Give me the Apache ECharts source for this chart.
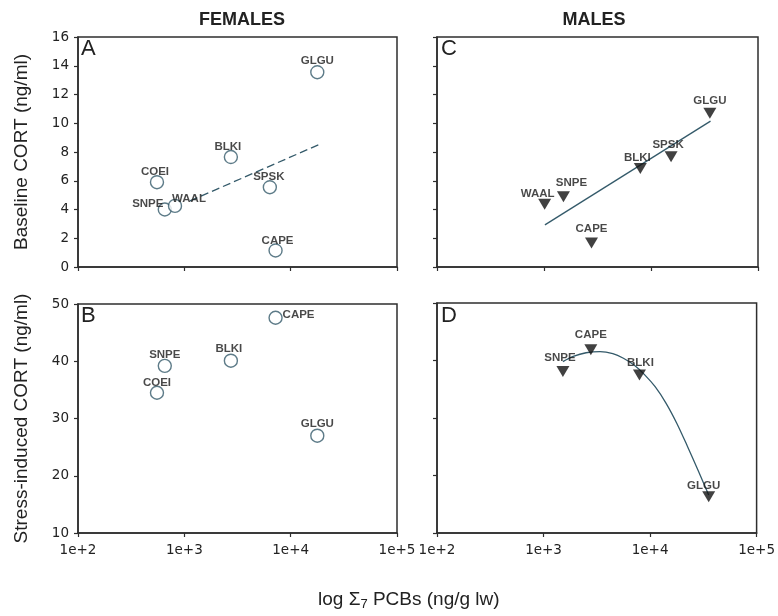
<!DOCTYPE html>
<html>
<head>
<meta charset="utf-8">
<script src="https://cdn.jsdelivr.net/npm/echarts@6/dist/echarts.min.js"></script>
<style>
html,body{margin:0;padding:0;background:#fff;}
#chart{width:778px;height:616px;}
</style>
</head>
<body>
<div id="chart"></div>
<script>
// ---- data ----
const femaleBaseNames = ['GLGU','BLKI','COEI','SNPE','WAAL','SPSK','CAPE'];
const femaleBaseX = [17800, 2740, 553, 655, 817, 6370, 7210];
const femaleBaseY = [13.55, 7.65, 5.9, 4.0, 4.25, 5.55, 1.15];

const femaleStressNames = ['CAPE','SNPE','BLKI','COEI','GLGU'];
const femaleStressX = [7210, 655, 2740, 553, 17800];
const femaleStressY = [47.6, 39.2, 40.1, 34.5, 27.0];

const maleBaseNames = ['GLGU','SPSK','BLKI','SNPE','WAAL','CAPE'];
const maleBaseX = [35500, 15400, 7950, 1520, 1014, 2780];
const maleBaseY = [10.7, 7.67, 6.86, 4.88, 4.37, 1.67];

const maleStressNames = ['CAPE','SNPE','BLKI','GLGU'];
const maleStressX = [2780, 1520, 7950, 35500];
const maleStressY = [41.86, 38.07, 37.5, 16.3];

// fitted lines as drawn in the reference
const femaleBaseFitX = [1130, 18800];
const femaleBaseFitY = [4.6, 8.54];
const maleBaseFitX = [1020, 36000];
const maleBaseFitY = [2.93, 10.15];
const maleStressFitX = [1520, 1900, 2510, 3390, 4470, 5620, 7080, 8910, 11200, 14100, 17800, 22400, 28200, 35500];
const maleStressFitY = [39.8, 40.7, 41.35, 41.55, 41.2, 40.4, 39.2, 37.5, 35.4, 32.6, 29.1, 25.1, 20.9, 16.6];

const xTickLabels = ['1e+2','1e+3','1e+4','1e+5'];
const baseTicks = [0,2,4,6,8,10,12,14,16];
const stressTicks = [10,20,30,40,50];

// ---- label placement (layout, not data) ----
const labelOffsets = {
  A: {GLGU:[0,-11], BLKI:[-3,-10], COEI:[-2,-10], SNPE:[-17,-6], WAAL:[14,-7], SPSK:[-1,-10], CAPE:[2,-10]},
  B: {CAPE:[23,-3], SNPE:[0,-11], BLKI:[-2,-12], COEI:[0,-10], GLGU:[0,-12]},
  C: {GLGU:[0,-12], SPSK:[-3,-12], BLKI:[-3,-11], SNPE:[8,-14], WAAL:[-7,-10], CAPE:[0,-14]},
  D: {CAPE:[0,-15], SNPE:[-3,-14], BLKI:[1,-12], GLGU:[-5,-11]}
};

function pts(names, xs, ys, panel) {
  return names.map((n, i) => ({
    name: n,
    value: [xs[i], ys[i]],
    label: {offset: labelOffsets[panel][n]}
  }));
}
function line(xs, ys) { return xs.map((x, i) => [x, ys[i]]); }

const FONT = '"Liberation Sans", Arial, sans-serif';
const TICKFONT = '"DejaVu Sans", sans-serif';
const AX = '#2e2e2e';
const MARK = '#345a6a';
const downTri = 'path://M0,0 L12,0 L6,10 Z';

const grids = [
  {left:78, top:37, width:319, height:230},
  {left:437, top:37, width:321, height:230},
  {left:78, top:304, width:319, height:229},
  {left:437, top:303, width:321, height:230}
].map(g => Object.assign({show:true, borderColor:AX, borderWidth:1.5, backgroundColor:'#fff'}, g));

function xAxis(gi, showLabels) {
  return {
    type:'log', logBase:10, min:100, max:100000, gridIndex:gi,
    axisLine:{show:true, lineStyle:{color:AX, width:1.5}},
    axisTick:{show:true, length:4, lineStyle:{color:AX, width:1.2}},
    minorTick:{show:false}, splitLine:{show:false},
    axisLabel:{show:showLabels, margin:10, fontFamily:TICKFONT, fontSize:13.5, color:'#222',
      formatter: v => xTickLabels[Math.round(Math.log10(v)) - 2]}
  };
}
function yAxis(gi, ticks, showLabels, name) {
  return {
    type:'value', gridIndex:gi, min:ticks[0], max:ticks[ticks.length-1],
    interval: ticks[1]-ticks[0],
    name: name || '', nameLocation:'middle', nameGap:47,
    nameTextStyle:{fontFamily:FONT, fontSize:19, color:'#222'},
    axisLine:{show:true, lineStyle:{color:AX, width:1.5}},
    axisTick:{show:true, length:4, lineStyle:{color:AX, width:1.2}},
    splitLine:{show:false},
    axisLabel:{show:showLabels, margin:9, fontFamily:TICKFONT, fontSize:13.5, color:'#222'}
  };
}

const labelStyle = {show:true, position:'inside', formatter:'{b}', fontFamily:FONT,
  fontWeight:'bold', fontSize:11.5, color:'#1a1a1a'};

const circleSeries = (gi, data) => ({
  type:'scatter', xAxisIndex:gi, yAxisIndex:gi, data, symbol:'circle', symbolSize:13,
  itemStyle:{color:'#fff', borderColor:MARK, borderWidth:1.4},
  label:labelStyle, z:3
});
const triSeries = (gi, data) => ({
  type:'scatter', xAxisIndex:gi, yAxisIndex:gi, data, symbol:downTri, symbolSize:[13,11],
  itemStyle:{color:'#111'}, label:labelStyle, z:3
});
const fitSeries = (gi, data, dashed, smooth) => ({
  type:'line', xAxisIndex:gi, yAxisIndex:gi, data, showSymbol:false, symbol:'none',
  smooth: smooth ? 0.3 : false, silent:true, z:2,
  lineStyle:{color:MARK, width:1.3, type: dashed ? [8,4] : 'solid'}
});

const chart = echarts.init(document.getElementById('chart'), null, {renderer:'canvas'});
chart.setOption({
  backgroundColor:'#fff',
  animation:false,
  title:[
    {text:'FEMALES', left:237, top:6, textAlign:'center',
      textStyle:{fontFamily:FONT, fontWeight:'bold', fontSize:18, color:'#222'}},
    {text:'MALES', left:589, top:6, textAlign:'center',
      textStyle:{fontFamily:FONT, fontWeight:'bold', fontSize:18, color:'#222'}}
  ],
  grid:grids,
  xAxis:[xAxis(0,false), xAxis(1,false), xAxis(2,true), xAxis(3,true)],
  yAxis:[
    yAxis(0, baseTicks, true, 'Baseline CORT (ng/ml)'),
    yAxis(1, baseTicks, false),
    yAxis(2, stressTicks, true, 'Stress-induced CORT (ng/ml)'),
    yAxis(3, stressTicks, false)
  ],
  graphic:[
    {type:'text', left:81, top:38, style:{text:'A', fontFamily:FONT, fontSize:22, fill:'#222'}},
    {type:'text', left:441, top:38, style:{text:'C', fontFamily:FONT, fontSize:22, fill:'#222'}},
    {type:'text', left:81, top:305, style:{text:'B', fontFamily:FONT, fontSize:22, fill:'#222'}},
    {type:'text', left:441, top:305, style:{text:'D', fontFamily:FONT, fontSize:22, fill:'#222'}},
    {type:'text', left:318, top:590, style:{
      text:'log \u03A3{s|7} PCBs (ng/g lw)', fontFamily:FONT, fontSize:19, fill:'#222',
      rich:{s:{fontFamily:FONT, fontSize:13, padding:[10,0,0,0], fill:'#222'}}}}
  ],
  series:[
    fitSeries(0, line(femaleBaseFitX, femaleBaseFitY), true, false),
    circleSeries(0, pts(femaleBaseNames, femaleBaseX, femaleBaseY, 'A')),
    fitSeries(1, line(maleBaseFitX, maleBaseFitY), false, false),
    triSeries(1, pts(maleBaseNames, maleBaseX, maleBaseY, 'C')),
    circleSeries(2, pts(femaleStressNames, femaleStressX, femaleStressY, 'B')),
    fitSeries(3, line(maleStressFitX, maleStressFitY), false, true),
    triSeries(3, pts(maleStressNames, maleStressX, maleStressY, 'D'))
  ]
});
</script>
</body>
</html>
